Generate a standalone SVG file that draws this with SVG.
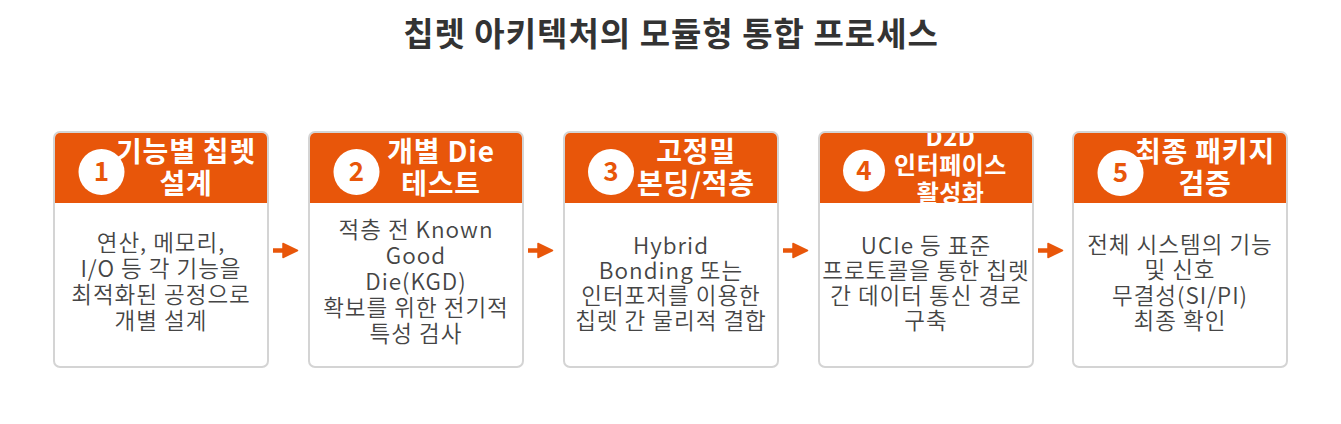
<svg xmlns="http://www.w3.org/2000/svg" width="1341" height="424" viewBox="0 0 1341 424">
<style>
.card{fill:#ffffff;stroke:#d4d4d4;stroke-width:2}
.hdr{fill:#E8560A}
.num-bg{fill:#ffffff}
.num{font-family:"Noto Sans CJK KR","Noto Sans",sans-serif;font-size:26px;font-weight:700;fill:#E8560A;text-anchor:middle}
.ttl{font-family:"Noto Sans CJK KR","Noto Sans",sans-serif;font-size:28px;font-weight:700;fill:#ffffff;text-anchor:middle;letter-spacing:0.8px}
.ttl4{font-family:"Noto Sans CJK KR","Noto Sans",sans-serif;font-size:24px;font-weight:700;fill:#ffffff;text-anchor:middle;letter-spacing:0.5px}
.body{font-family:"Noto Sans CJK KR","Noto Sans",sans-serif;font-size:22.5px;font-weight:350;fill:#454545;text-anchor:middle;letter-spacing:1px}
.title{font-family:"Noto Sans CJK KR","Noto Sans",sans-serif;font-size:33px;font-weight:700;fill:#333333;text-anchor:middle;letter-spacing:1px}
.arrow-shaft{stroke:#E8560A;stroke-width:4.5;fill:none}
.arrow-head{fill:#E8560A;stroke:#E8560A;stroke-width:1.5;stroke-linejoin:round}
</style>
<defs>
<clipPath id="clip4"><rect x="819" y="133" width="213" height="70"/></clipPath>
</defs>
<rect width="1341" height="424" fill="#ffffff"/>
<text class="title" x="671" y="46">칩렛 아키텍처의 모듈형 통합 프로세스</text>

<g id="connectors">
<line class="arrow-shaft" x1="273" y1="250.5" x2="285" y2="250.5"/>
<polygon class="arrow-head" points="283,243.5 297.5,250.5 283,257.5"/>
<line class="arrow-shaft" x1="528" y1="250.5" x2="540" y2="250.5"/>
<polygon class="arrow-head" points="538,243.5 552.5,250.5 538,257.5"/>
<line class="arrow-shaft" x1="783" y1="250.5" x2="795" y2="250.5"/>
<polygon class="arrow-head" points="793,243.5 807.5,250.5 793,257.5"/>
<line class="arrow-shaft" x1="1038" y1="250.5" x2="1050" y2="250.5"/>
<polygon class="arrow-head" points="1048,243.5 1062.5,250.5 1048,257.5"/>
</g>

<g id="node1">
<rect class="card" x="54" y="132" width="214" height="235" rx="6"/>
<path class="hdr" d="M55 138 a5 5 0 0 1 5 -5 h202 a5 5 0 0 1 5 5 v65 h-212 z"/>
<circle class="num-bg" cx="101.5" cy="172" r="23"/>
<text class="num" x="101.5" y="181">1</text>
<text class="ttl" x="186" y="162">기능별 칩렛</text>
<text class="ttl" x="186" y="194">설계</text>
<text class="body" x="161" y="251">연산, 메모리,</text>
<text class="body" x="161" y="277">I/O 등 각 기능을</text>
<text class="body" x="161" y="303">최적화된 공정으로</text>
<text class="body" x="161" y="329">개별 설계</text>
</g>

<g id="node2">
<rect class="card" x="309" y="132" width="214" height="235" rx="6"/>
<path class="hdr" d="M310 138 a5 5 0 0 1 5 -5 h202 a5 5 0 0 1 5 5 v65 h-212 z"/>
<circle class="num-bg" cx="356.5" cy="172" r="23"/>
<text class="num" x="356.5" y="181">2</text>
<text class="ttl" x="441" y="162">개별 Die</text>
<text class="ttl" x="441" y="194">테스트</text>
<text class="body" x="416" y="238">적층 전 Known</text>
<text class="body" x="416" y="264">Good</text>
<text class="body" x="416" y="290">Die(KGD)</text>
<text class="body" x="416" y="316">확보를 위한 전기적</text>
<text class="body" x="416" y="342">특성 검사</text>
</g>

<g id="node3">
<rect class="card" x="564" y="132" width="214" height="235" rx="6"/>
<path class="hdr" d="M565 138 a5 5 0 0 1 5 -5 h202 a5 5 0 0 1 5 5 v65 h-212 z"/>
<circle class="num-bg" cx="611" cy="172" r="23"/>
<text class="num" x="611" y="181">3</text>
<text class="ttl" x="696" y="162">고정밀</text>
<text class="ttl" x="696" y="194">본딩/적층</text>
<text class="body" x="671" y="254">Hybrid</text>
<text class="body" x="671" y="279">Bonding 또는</text>
<text class="body" x="671" y="304">인터포저를 이용한</text>
<text class="body" x="671" y="329">칩렛 간 물리적 결합</text>
</g>

<g id="node4">
<rect class="card" x="819" y="132" width="214" height="235" rx="6"/>
<path class="hdr" d="M820 138 a5 5 0 0 1 5 -5 h202 a5 5 0 0 1 5 5 v65 h-212 z"/>
<circle class="num-bg" cx="864" cy="170.5" r="21"/>
<text class="num" x="864" y="179.5">4</text>
<g clip-path="url(#clip4)">
<text class="ttl4" x="950.5" y="146">D2D</text>
<text class="ttl4" x="950.5" y="174">인터페이스</text>
<text class="ttl4" x="950.5" y="202">활성화</text>
</g>
<text class="body" x="926" y="254">UCIe 등 표준</text>
<text class="body" x="926" y="279">프로토콜을 통한 칩렛</text>
<text class="body" x="926" y="304">간 데이터 통신 경로</text>
<text class="body" x="926" y="329">구축</text>
</g>

<g id="node5">
<rect class="card" x="1073" y="132" width="214" height="235" rx="6"/>
<path class="hdr" d="M1074 138 a5 5 0 0 1 5 -5 h202 a5 5 0 0 1 5 5 v65 h-212 z"/>
<circle class="num-bg" cx="1120.5" cy="173" r="23"/>
<text class="num" x="1120.5" y="182">5</text>
<text class="ttl" x="1205" y="162">최종 패키지</text>
<text class="ttl" x="1205" y="194">검증</text>
<text class="body" x="1180" y="253">전체 시스템의 기능</text>
<text class="body" x="1180" y="278">및 신호</text>
<text class="body" x="1180" y="304">무결성(SI/PI)</text>
<text class="body" x="1180" y="329">최종 확인</text>
</g>
</svg>
